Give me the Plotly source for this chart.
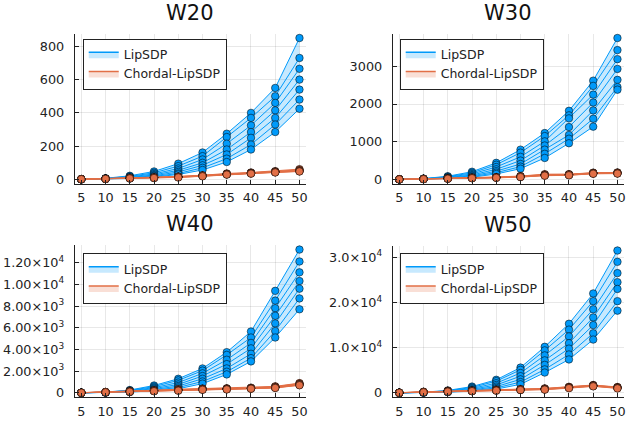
import plotly.graph_objects as go

x_vals = [5, 10, 15, 20, 25, 30, 35, 40, 45, 50]
panel_titles = ["W20", "W30", "W40", "W50"]
series_names = ["LipSDP", "Chordal-LipSDP"]

# rows: one per x value, 7 runs each (descending)
lip_w20 = [[1.5, 1.3, 1.1, 1.0, 0.9, 0.8, 0.7], [7, 6, 5, 4, 3.5, 3, 2.5], [22, 18, 15, 12, 10, 8, 6],
           [48, 40, 33, 27, 22, 18, 14], [95, 80, 66, 55, 45, 36, 30], [162, 140, 120, 100, 85, 70, 57],
           [275, 255, 215, 180, 150, 125, 105], [400, 370, 325, 285, 250, 210, 180],
           [550, 500, 460, 415, 370, 330, 285], [850, 730, 665, 600, 540, 480, 425]]
cho_w20 = [[2, 2, 1.8, 1.6, 1.5, 1.4, 1.2], [5, 4.5, 4.2, 4, 3.8, 3.5, 3.2], [9, 8.5, 8, 7.5, 7, 6.5, 6],
           [13, 12, 11, 10, 9.5, 9, 8.5], [18, 17, 16, 15, 14, 13, 12], [25, 24, 23, 22, 21, 20, 19],
           [36, 34, 33, 32, 31, 30, 29], [42, 40, 39, 38, 37, 36, 35], [50, 48, 46, 45, 44, 43, 42],
           [62, 58, 55, 52, 50, 49, 48]]
lip_w30 = [[5, 4.5, 4, 3.5, 3, 2.5, 2], [22, 19, 16, 14, 12, 10, 8], [85, 72, 60, 50, 40, 32, 25],
           [205, 175, 145, 118, 95, 75, 58], [440, 390, 330, 270, 220, 180, 145],
           [790, 710, 600, 500, 410, 340, 285], [1230, 1150, 1010, 900, 790, 680, 570],
           [1820, 1700, 1620, 1390, 1180, 1080, 960], [2620, 2480, 2250, 2040, 1830, 1610, 1400],
           [3750, 3430, 3190, 2930, 2640, 2450, 2380]]
cho_w30 = [[4, 3.5, 3, 3, 2.5, 2.5, 2], [14, 13, 12, 11, 10, 9, 8], [30, 28, 26, 24, 22, 20, 18],
           [50, 46, 42, 40, 38, 35, 32], [65, 60, 56, 52, 48, 45, 42], [90, 85, 80, 75, 70, 66, 62],
           [140, 130, 120, 115, 110, 105, 100], [140, 135, 130, 125, 120, 115, 110],
           [180, 175, 170, 165, 160, 155, 150], [185, 180, 175, 170, 165, 160, 155]]
lip_w40 = [[12, 10, 9, 8, 7, 6, 5], [70, 60, 50, 42, 35, 29, 24], [260, 220, 185, 150, 120, 95, 75],
           [680, 580, 480, 390, 310, 245, 190], [1300, 1150, 950, 780, 630, 500, 380],
           [2250, 2050, 1800, 1550, 1300, 1050, 850], [3750, 3500, 3050, 2650, 2250, 1950, 1700],
           [5650, 5100, 4600, 4100, 3600, 3200, 2900], [9400, 8500, 7800, 7100, 6400, 5700, 5100],
           [13200, 12100, 11100, 10300, 9600, 8700, 7700]]
cho_w40 = [[20, 18, 16, 14, 12, 10, 8], [80, 75, 70, 65, 60, 55, 50], [160, 150, 140, 130, 120, 110, 100],
           [250, 230, 210, 190, 175, 160, 150], [330, 300, 280, 260, 240, 220, 200],
           [400, 380, 360, 340, 320, 300, 280], [420, 400, 380, 360, 345, 330, 320],
           [480, 460, 440, 420, 400, 390, 380], [600, 570, 540, 510, 490, 470, 450],
           [900, 860, 820, 780, 750, 720, 700]]
lip_w50 = [[25, 22, 19, 16, 14, 12, 10], [150, 130, 110, 95, 80, 65, 55], [550, 460, 380, 310, 250, 200, 160],
           [1400, 1200, 1000, 800, 640, 500, 390], [2900, 2600, 2150, 1750, 1400, 1100, 850],
           [5600, 5100, 4400, 3700, 3000, 2400, 1900], [10200, 9400, 8300, 7200, 6200, 5200, 4500],
           [15300, 14000, 12500, 11000, 9800, 8500, 7400], [22000, 20300, 18500, 16700, 15000, 13200, 11800],
           [31500, 29000, 26500, 24500, 23000, 20300, 18200]]
cho_w50 = [[60, 55, 50, 45, 40, 35, 30], [250, 230, 210, 190, 170, 150, 130], [450, 420, 390, 360, 330, 300, 280],
           [550, 520, 490, 460, 430, 400, 380], [700, 660, 620, 580, 550, 520, 500],
           [850, 800, 760, 720, 680, 650, 620], [1000, 950, 900, 850, 800, 760, 720],
           [1350, 1300, 1250, 1200, 1150, 1100, 1050], [1750, 1700, 1650, 1600, 1550, 1500, 1450],
           [1300, 1250, 1200, 1150, 1100, 1050, 1000]]

tick_w20 = [0, 200, 400, 600, 800]
tick_w30 = [0, 1000, 2000, 3000]
tick_w40 = [0, 2000, 4000, 6000, 8000, 10000, 12000]
tick_w50 = [0, 10000, 20000, 30000]
ticktext_w20 = ["0", "200", "400", "600", "800"]
ticktext_w30 = ["0", "1000", "2000", "3000"]
ticktext_w40 = ["0", "2.00×10<sup>3</sup>", "4.00×10<sup>3</sup>", "6.00×10<sup>3</sup>",
                "8.00×10<sup>3</sup>", "1.00×10<sup>4</sup>", "1.20×10<sup>4</sup>"]
ticktext_w50 = ["0", "1.0×10<sup>4</sup>", "2.0×10<sup>4</sup>", "3.0×10<sup>4</sup>"]

panels = [
    (lip_w20, cho_w20, tick_w20, ticktext_w20),
    (lip_w30, cho_w30, tick_w30, ticktext_w30),
    (lip_w40, cho_w40, tick_w40, ticktext_w40),
    (lip_w50, cho_w50, tick_w50, ticktext_w50),
]

W, H = 626, 425
# plot-area boxes in pixels: (left, right, top, bottom)
boxes = [(75, 307, 34, 185), (394, 626, 34, 185), (75, 307, 247, 400), (394, 626, 248, 400)]
legend_pos = [(83, 39), (401, 39), (83, 255), (401, 255)]

BLUE = "#009AFA"
ORANGE = "#E26F46"
colors = [BLUE, ORANGE]
fills = ["rgba(0,154,250,0.22)", "rgba(226,111,70,0.22)"]

fig = go.Figure()
layout = dict(width=W, height=H, margin=dict(l=0, r=0, t=0, b=0),
              paper_bgcolor="white", plot_bgcolor="white", showlegend=True,
              font=dict(family="DejaVu Sans", size=12.5, color="#222"))
annotations = []

for k, (lip, cho, tv, tt) in enumerate(panels):
    ax = "" if k == 0 else str(k + 1)
    xa, ya = "x" + ax, "y" + ax
    leg = "legend" if k == 0 else "legend" + str(k + 1)
    for m, rows in enumerate([lip, cho]):
        runs = [list(r) for r in zip(*rows)]
        # legend-only entry (line + filled box)
        fig.add_trace(go.Scatter(x=[None], y=[None], mode="lines", fill="toself",
                                 line=dict(color=colors[m], width=1.5), fillcolor=fills[m],
                                 name=series_names[m], xaxis=xa, yaxis=ya, legend=leg,
                                 showlegend=True))
        for i, run in enumerate(runs):
            fig.add_trace(go.Scatter(
                x=x_vals, y=run, mode="lines", xaxis=xa, yaxis=ya,
                fill="none" if i == 0 else "tonexty", fillcolor=fills[m],
                line=dict(color=colors[m], width=1), showlegend=False, hoverinfo="skip"))
        for i, run in enumerate(runs):
            fig.add_trace(go.Scatter(
                x=x_vals, y=run, mode="markers", xaxis=xa, yaxis=ya,
                marker=dict(color=colors[m], size=7.5, line=dict(color="rgba(0,0,0,0.65)", width=0.8)),
                showlegend=False, cliponaxis=False))
    ymax = max(max(r) for r in lip)
    ymin = 0
    span = ymax - ymin
    l, r, t, b = boxes[k]
    xdom = [l / W, min(r / W, 1.0)]
    ydom = [1 - b / H, 1 - t / H]
    axis_common = dict(showgrid=True, gridcolor="rgba(0,0,0,0.09)", gridwidth=1,
                       showline=True, linecolor="#222", linewidth=1, zeroline=False,
                       ticks="inside", ticklen=4, tickcolor="#222", ticklabeloverflow="allow",
                       tickfont=dict(family="DejaVu Sans", size=12.8, color="#222"), mirror=False)
    layout["xaxis" + ax] = dict(axis_common, domain=xdom, range=[3.65, 51.35], tickvals=x_vals,
                                ticktext=[str(v) for v in x_vals], anchor=ya, ticklabelstandoff=2)
    layout["yaxis" + ax] = dict(axis_common, domain=ydom, range=[ymin - 0.03 * span, ymax + 0.03 * span],
                                tickvals=tv, ticktext=tt, anchor=xa, ticklabelstandoff=7)
    lx, ly = legend_pos[k]
    layout[leg] = dict(x=lx / W, y=1 - ly / H, xanchor="left", yanchor="top", bgcolor="white",
                       bordercolor="#222", borderwidth=1, itemwidth=30, tracegroupgap=0,
                       traceorder="normal",
                       font=dict(family="DejaVu Sans", size=12.5, color="#222"))
    annotations.append(dict(text=panel_titles[k], x=(l + r) / 2 / W, y=1 - (t - 21) / H,
                            xref="paper", yref="paper", xanchor="center", yanchor="middle",
                            showarrow=False, font=dict(family="DejaVu Sans", size=21, color="#111")))

layout["annotations"] = annotations
fig.update_layout(**layout)
fig.write_html("out.html", config={"displayModeBar": False},
               post_script="document.body.style.margin='0';document.body.style.overflow='hidden';")
